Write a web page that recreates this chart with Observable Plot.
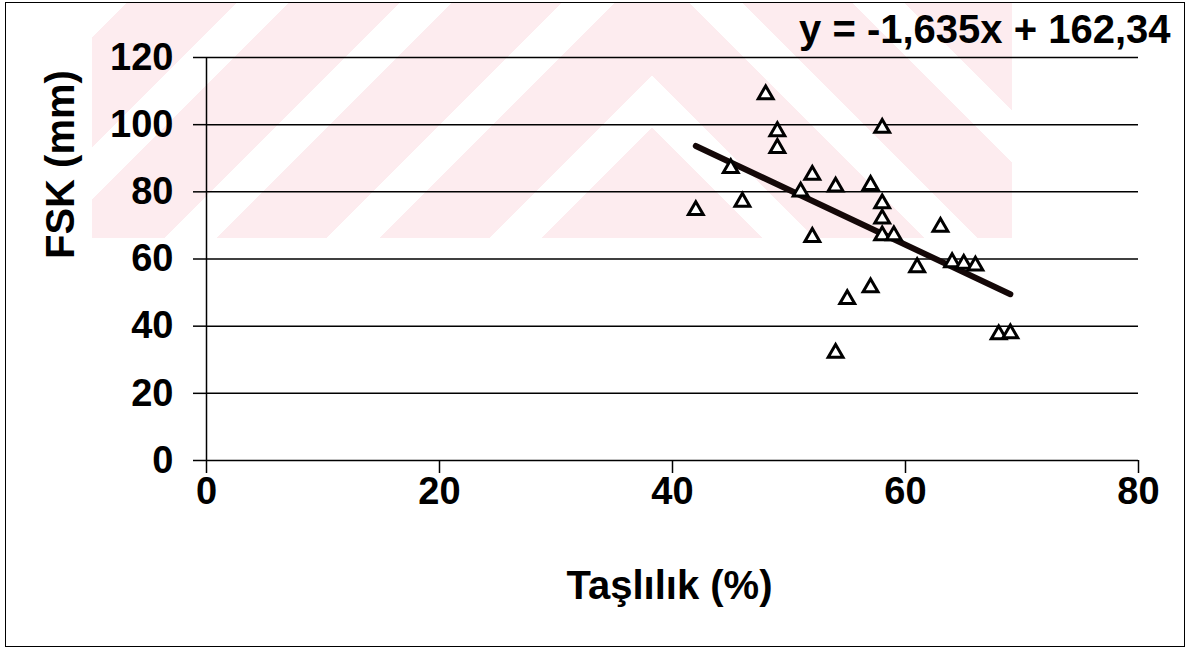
<!DOCTYPE html>
<html>
<head>
<meta charset="utf-8">
<script src="https://cdn.jsdelivr.net/npm/d3@7"></script>
<script src="https://cdn.jsdelivr.net/npm/@observablehq/plot@0.6"></script>
<style>
  html, body { margin: 0; padding: 0; background: #fff; }
  #wrap { position: relative; width: 1204px; height: 649px; overflow: hidden; font-family: "Liberation Sans", Arial, sans-serif; }
  .wm { position: absolute; top: 2px; height: 236px; }
  #border { position: absolute; left: 5px; top: 2px; width: 1180px; height: 645px; border: 1.5px solid #000; box-sizing: border-box; }
  #chart { position: absolute; left: 0; top: 0; }
</style>
</head>
<body>
<div id="wrap">
  <div class="wm" style="left:92px;width:560px;background:repeating-linear-gradient(-45deg,#fdecef 0 78px,rgba(255,255,255,0) 78px 115px);"></div>
  <div class="wm" style="left:652px;width:360px;background:repeating-linear-gradient(45deg,#fdecef 0 78px,rgba(255,255,255,0) 78px 115px);"></div>
  <div id="border"></div>
  <div id="chart"></div>
</div>
<script>
// Taşlılık (%) values
const taslilik = [42, 45, 46, 48, 49, 49, 51, 52, 52, 54, 54, 55, 57, 57, 58, 58, 58, 58, 59, 61, 63, 64, 65, 66, 68, 69];
// FSK (mm) values
const fsk = [74.5, 87, 77, 109, 98, 93, 80, 85, 66.5, 81.5, 32, 48, 82, 51.5, 99, 76.5, 72, 67, 67, 57.5, 69.5, 59, 58.5, 58, 37.5, 37.8];
// trend line coefficients (from the chart's equation)
const slope = -1.635;
const intercept = 162.34;
const equationLabel = ["y = -1,635x + 162,34"];
const xTicks = [0, 20, 40, 60, 80];
const yTicks = [0, 20, 40, 60, 80, 100, 120];
const xLabel = ["Taşlılık (%)"];
const yLabel = ["FSK (mm)"];

const points = taslilik.map((x, i) => ({x, y: fsk[i]}));
const xExt = d3.extent(taslilik);
const trend = xExt.map(x => ({x, y: slope * x + intercept}));

const font = "Liberation Sans, Arial, sans-serif";

const chart = Plot.plot({
  width: 1204,
  height: 649,
  marginLeft: 206,
  marginRight: 66,
  marginTop: 57,
  marginBottom: 189,
  style: {background: "transparent", fontFamily: font, color: "#000"},
  x: {domain: [0, 80]},
  y: {domain: [0, 120]},
  marks: [
    Plot.ruleY(yTicks, {stroke: "#000", strokeWidth: 1.5}),
    Plot.axisY({ticks: yTicks, tickSize: 13, tickPadding: 20, fontSize: 38, fontWeight: "bold", label: null, strokeWidth: 1.5}),
    Plot.axisX({ticks: xTicks, tickSize: 13, tickPadding: 4, fontSize: 38, fontWeight: "bold", label: null, strokeWidth: 1.5}),
    Plot.ruleX([0], {stroke: "#000", strokeWidth: 1.5}),
    Plot.line(trend, {x: "x", y: "y", stroke: "#140808", strokeWidth: 6}),
    Plot.dot(points, {x: "x", y: "y", symbol: "triangle", r: 5.5, stroke: "#000", strokeWidth: 3, fill: "#fff"}),
    Plot.text(equationLabel, {frameAnchor: "top-right", text: d => d, textAnchor: "end", lineAnchor: "middle", dx: 32, dy: -27, fontSize: 40, fontWeight: "bold", fill: "#000"}),
    Plot.text(yLabel, {frameAnchor: "left", text: d => d, rotate: -90, dx: -145, fontSize: 40, fontWeight: "bold", fill: "#000"}),
    Plot.text(xLabel, {frameAnchor: "bottom", text: d => d, dx: -3, dy: 126, lineAnchor: "middle", fontSize: 40, fontWeight: "bold", fill: "#000"})
  ]
});
document.getElementById("chart").appendChild(chart);
</script>
</body>
</html>
